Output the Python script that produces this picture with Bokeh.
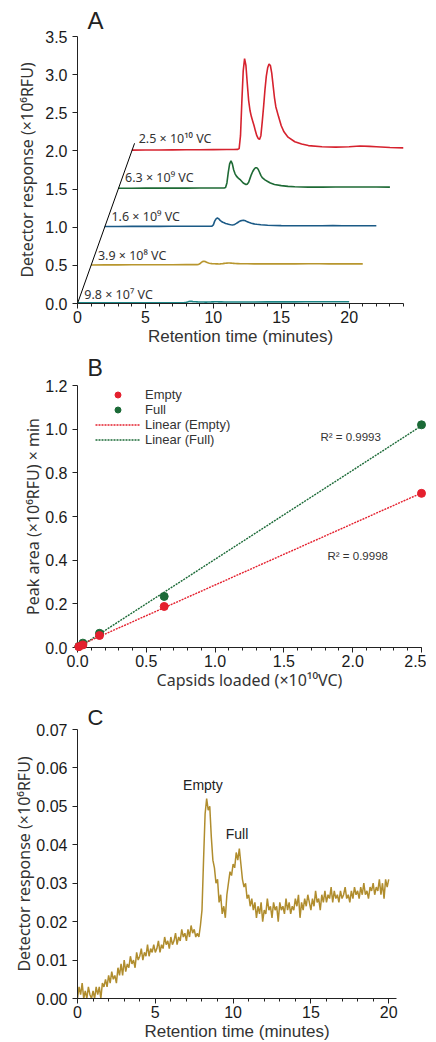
from bokeh.plotting import figure
from bokeh.layouts import column
from bokeh.models import FixedTicker, Label, Legend, LegendItem, PrintfTickFormatter, Range1d, Title
from bokeh.core.properties import value
from bokeh.embed import file_html
from bokeh.resources import INLINE
import numpy as np

FONT = "Liberation Sans"
TFONT = "Noto Sans"

# ---------------- Panel A data ----------------
times_A = [0, 1, 2, 3, 4, 5, 6, 7, 7.5, 7.8,
           7.9, 8.0, 8.1, 8.2, 8.3, 8.4, 8.5, 8.6, 8.7, 8.8,
           8.9, 9.0, 9.1, 9.2, 9.3, 9.4, 9.5, 9.6, 9.7, 9.8,
           9.9, 10.0, 10.1, 10.2, 10.3, 10.4, 10.5, 10.6, 10.8, 11.0,
           11.2, 11.5, 12.0, 12.5, 13, 14, 15, 16, 16.8, 17.5,
           18, 19, 20]
sig_98e7 = [0.008, 0.009, 0.009, 0.010, 0.010, 0.010, 0.010, 0.010, 0.010, 0.010,
            0.011, 0.015, 0.020, 0.026, 0.030, 0.028, 0.025, 0.023, 0.022, 0.021,
            0.020, 0.020, 0.020, 0.019, 0.019, 0.018, 0.018, 0.019, 0.019, 0.020,
            0.021, 0.021, 0.022, 0.022, 0.022, 0.021, 0.021, 0.021, 0.020, 0.020,
            0.020, 0.020, 0.020, 0.020, 0.020, 0.021, 0.021, 0.021, 0.022, 0.022,
            0.022, 0.022, 0.022]
sig_39e8 = [0.005, 0.006, 0.006, 0.007, 0.007, 0.008, 0.008, 0.009, 0.009, 0.010,
            0.012, 0.020, 0.035, 0.050, 0.055, 0.050, 0.040, 0.033, 0.028, 0.025,
            0.023, 0.022, 0.021, 0.020, 0.019, 0.018, 0.019, 0.021, 0.023, 0.026,
            0.028, 0.029, 0.030, 0.030, 0.029, 0.027, 0.026, 0.024, 0.023, 0.022,
            0.021, 0.021, 0.020, 0.020, 0.020, 0.020, 0.020, 0.021, 0.021, 0.020,
            0.020, 0.020, 0.020]
sig_16e9 = [0.010, 0.010, 0.011, 0.011, 0.011, 0.012, 0.012, 0.012, 0.012, 0.012,
            0.014, 0.030, 0.080, 0.110, 0.120, 0.110, 0.090, 0.075, 0.065, 0.058,
            0.050, 0.045, 0.040, 0.035, 0.032, 0.030, 0.032, 0.040, 0.050, 0.062,
            0.074, 0.083, 0.089, 0.090, 0.087, 0.080, 0.072, 0.064, 0.052, 0.044,
            0.038, 0.032, 0.026, 0.023, 0.021, 0.020, 0.020, 0.020, 0.021, 0.020,
            0.020, 0.020, 0.020]
sig_63e9 = [0.010, 0.011, 0.012, 0.012, 0.013, 0.013, 0.014, 0.014, 0.015, 0.015,
            0.020, 0.080, 0.220, 0.330, 0.370, 0.330, 0.250, 0.200, 0.170, 0.150,
            0.135, 0.120, 0.100, 0.080, 0.070, 0.060, 0.065, 0.090, 0.140, 0.190,
            0.230, 0.260, 0.280, 0.280, 0.260, 0.220, 0.180, 0.150, 0.120, 0.100,
            0.080, 0.060, 0.045, 0.035, 0.030, 0.025, 0.025, 0.027, 0.028, 0.028,
            0.027, 0.027, 0.026]
sig_25e10 = [0.010, 0.012, 0.013, 0.014, 0.015, 0.016, 0.017, 0.018, 0.019, 0.020,
             0.030, 0.200, 0.650, 1.050, 1.210, 1.120, 0.880, 0.660, 0.530, 0.450,
             0.390, 0.330, 0.260, 0.200, 0.165, 0.150, 0.200, 0.380, 0.580, 0.800,
             0.980, 1.090, 1.140, 1.120, 1.020, 0.860, 0.700, 0.580, 0.450, 0.330,
             0.250, 0.180, 0.120, 0.090, 0.070, 0.055, 0.050, 0.055, 0.065, 0.060,
             0.055, 0.045, 0.040]
trace_labels_A = ["9.8 × 10⁷ VC", "3.9 × 10⁸ VC", "1.6 × 10⁹ VC", "6.3 × 10⁹ VC", "2.5 × 10¹⁰ VC"]
trace_colors_A = ["#1d8585", "#b8962e", "#1b5a86", "#1e6a35", "#d6222e"]
x_shift_A = [0, 1, 2, 3, 4]
y_shift_A = [0.0, 0.5, 1.0, 1.5, 2.0]
xticks_A = [0, 5, 10, 15, 20]
yticks_A = [0.0, 0.5, 1.0, 1.5, 2.0, 2.5, 3.0, 3.5]

# ---------------- Panel B data ----------------
capsids_loaded = [0.0098, 0.039, 0.16, 0.63, 2.5]
area_empty = [0.004, 0.012, 0.055, 0.188, 0.706]
area_full = [0.005, 0.020, 0.065, 0.234, 1.020]
r2_full = "R² = 0.9993"
r2_empty = "R² = 0.9998"
xticks_B = [0.0, 0.5, 1.0, 1.5, 2.0, 2.5]
yticks_B = [0.0, 0.2, 0.4, 0.6, 0.8, 1.0, 1.2]

# ---------------- Panel C data (sampled every 0.1 min) ----------------
c_signal = [
    0.000, 0.003, 0.001, 0.004, 0.000, 0.002, 0.000, 0.003, 0.001, 0.000,
    0.002, 0.000, 0.003, 0.001, 0.003, 0.000, 0.004, 0.003, 0.005, 0.003,
    0.006, 0.004, 0.007, 0.005, 0.006, 0.004, 0.008, 0.006, 0.009, 0.006,
    0.010, 0.007, 0.009, 0.008, 0.011, 0.009, 0.010, 0.008, 0.012, 0.010,
    0.011, 0.013, 0.010, 0.012, 0.011, 0.014, 0.011, 0.013, 0.012, 0.014,
    0.012, 0.013, 0.015, 0.012, 0.014, 0.013, 0.016, 0.014, 0.015, 0.013,
    0.016, 0.014, 0.015, 0.017, 0.014, 0.016, 0.015, 0.018, 0.016, 0.017,
    0.015, 0.018, 0.016, 0.019, 0.017, 0.018, 0.016, 0.017, 0.016, 0.019,
    0.023, 0.036, 0.048, 0.052, 0.049, 0.050, 0.042, 0.036, 0.034, 0.030,
    0.031, 0.025, 0.027, 0.022, 0.024, 0.021, 0.027, 0.030, 0.033, 0.032,
    0.035, 0.034, 0.038, 0.036, 0.039, 0.035, 0.031, 0.029, 0.030, 0.026,
    0.027, 0.024, 0.026, 0.023, 0.025, 0.021, 0.024, 0.022, 0.025, 0.020,
    0.023, 0.022, 0.026, 0.023, 0.024, 0.021, 0.025, 0.023, 0.024, 0.020,
    0.025, 0.023, 0.024, 0.022, 0.026, 0.023, 0.025, 0.022, 0.024, 0.023,
    0.026, 0.024, 0.027, 0.021, 0.025, 0.023, 0.026, 0.024, 0.027, 0.025,
    0.023, 0.026, 0.024, 0.028, 0.025, 0.026, 0.023, 0.027, 0.025, 0.028,
    0.025, 0.027, 0.026, 0.029, 0.025, 0.028, 0.026, 0.027, 0.025, 0.028,
    0.026, 0.027, 0.029, 0.026, 0.027, 0.025, 0.028, 0.026, 0.029, 0.027,
    0.028, 0.026, 0.029, 0.027, 0.030, 0.027, 0.028, 0.026, 0.029, 0.028,
    0.030, 0.027, 0.029, 0.028, 0.031, 0.027, 0.030, 0.026, 0.031, 0.029,
    0.031]
c_sample_interval = 0.1
times_C = [round(i * c_sample_interval, 1) for i in range(len(c_signal))]
xticks_C = [0, 5, 10, 15, 20]
yticks_C = [0.00, 0.01, 0.02, 0.03, 0.04, 0.05, 0.06, 0.07]


def make_fig(xr, yr, fw, fh, top, bottom, letter, letter_size, letter_standoff):
    p = figure(frame_width=fw, frame_height=fh, x_range=xr, y_range=yr,
               output_backend="svg", toolbar_location=None,
               min_border_left=77, min_border_right=5,
               min_border_top=top, min_border_bottom=bottom,
               title=Title(text=letter, align="left", offset=10, standoff=letter_standoff,
                           text_font=FONT, text_font_size=letter_size, text_font_style="normal",
                           text_color="#222222"))
    p.xgrid.visible = False
    p.ygrid.visible = False
    p.outline_line_color = None
    for ax in (p.xaxis[0], p.yaxis[0]):
        ax.axis_line_color = "#222222"
        ax.axis_line_width = 1
        ax.major_tick_line_color = "#222222"
        ax.minor_tick_line_color = "#222222"
        ax.major_tick_out = 5
        ax.major_tick_in = 0
        ax.minor_tick_out = 3
        ax.minor_tick_in = 0
        ax.major_label_text_font = FONT
        ax.major_label_text_font_size = "16px"
        ax.major_label_text_color = "#1a1a1a"
        ax.axis_label_text_font = TFONT
        ax.axis_label_text_font_style = "normal"
        ax.axis_label_text_font_size = "16px"
        ax.axis_label_text_color = "#333333"
    p.yaxis[0].minor_tick_line_color = None
    p.xaxis[0].major_label_standoff = 2
    return p


def below_title(p, text, offset, standoff):
    p.add_layout(Title(text=text, align="center", offset=offset, standoff=standoff,
                       text_font=FONT, text_font_size="17px", text_font_style="normal",
                       text_color="#333333"), "below")


# ---------------- Panel A ----------------
pA = make_fig(Range1d(0, 24), Range1d(0, 3.5), 326, 267, 36, 44, "A", "24px", 6)
pA.xaxis[0].ticker = FixedTicker(ticks=xticks_A, minor_ticks=list(range(0, 25)))
pA.yaxis[0].ticker = FixedTicker(ticks=yticks_A)
pA.xaxis[0].formatter = PrintfTickFormatter(format="%d")
pA.yaxis[0].formatter = PrintfTickFormatter(format="%.1f")
pA.yaxis[0].axis_label = "Detector response (×10⁶RFU)"
pA.yaxis[0].axis_label_standoff = 4

signals_A = [sig_98e7, sig_39e8, sig_16e9, sig_63e9, sig_25e10]
for k, sig in enumerate(signals_A):
    xs = [t + x_shift_A[k] for t in times_A]
    ys = [v + y_shift_A[k] for v in sig]
    pA.line(xs, ys, line_color=trace_colors_A[k], line_width=1.6)
pA.line([0, x_shift_A[-1] * 1.05], [0, y_shift_A[-1] * 1.05], line_color="black", line_width=1)
pA.text(x=[s + 0.5 for s in x_shift_A], y=[s + 0.12 + 0.1 * s / 5 for s in y_shift_A],
        text=trace_labels_A, text_font=value(TFONT), text_font_size="12.5px",
        text_baseline="middle", text_align="left", text_color="#333333")
below_title(pA, "Retention time (minutes)", -13, -1)

# ---------------- Panel B ----------------
pB = make_fig(Range1d(0, 2.5), Range1d(0, 1.2), 344, 262, 38, 46, "B", "23px", 10)
pB.xaxis[0].ticker = FixedTicker(ticks=xticks_B, minor_ticks=[i / 10 for i in range(0, 26)])
pB.yaxis[0].ticker = FixedTicker(ticks=yticks_B)
pB.xaxis[0].formatter = PrintfTickFormatter(format="%.1f")
pB.yaxis[0].formatter = PrintfTickFormatter(format="%.1f")
pB.yaxis[0].axis_label = "Peak area (×10⁶RFU) × min"
pB.yaxis[0].axis_label_standoff = -2
pB.xaxis[0].axis_label = "Capsids loaded (×10¹⁰VC)"
pB.xaxis[0].axis_label_standoff = -1

x_fit = [0.0, xticks_B[-1]]
fe = np.polyfit(capsids_loaded, area_empty, 1)
ff = np.polyfit(capsids_loaded, area_full, 1)
red_c, green_c = "#e4202e", "#1b6a37"
lf = pB.line(x_fit, [ff[0] * x + ff[1] for x in x_fit], line_color=green_c, line_width=1.4, line_dash="2 1")
le = pB.line(x_fit, [fe[0] * x + fe[1] for x in x_fit], line_color=red_c, line_width=1.4, line_dash="2 1")
sf = pB.scatter(capsids_loaded, area_full, size=8, fill_color=green_c, line_color=green_c, level="overlay")
se = pB.scatter(capsids_loaded, area_empty, size=8, fill_color=red_c, line_color=red_c, level="overlay")
leg = Legend(items=[LegendItem(label="Empty", renderers=[se]),
                    LegendItem(label="Full", renderers=[sf]),
                    LegendItem(label="Linear (Empty)", renderers=[le]),
                    LegendItem(label="Linear (Full)", renderers=[lf])],
             location=(18, 262 - 62), padding=0, margin=0, spacing=0,
             glyph_width=45, glyph_height=15, label_height=15, label_standoff=5,
             label_text_font=FONT, label_text_font_size="13px", label_text_color="#333333",
             border_line_alpha=0, background_fill_alpha=0)
pB.add_layout(leg)
pB.add_layout(Label(x=1.766, y=0.966, text=r2_full, text_font=FONT, text_font_size="11.5px",
                    text_color="#333333", text_baseline="middle"))
pB.add_layout(Label(x=1.817, y=0.42, text=r2_empty, text_font=FONT, text_font_size="11.5px",
                    text_color="#333333", text_baseline="middle"))

# ---------------- Panel C ----------------
pC = make_fig(Range1d(0, 20.5), Range1d(0, 0.07), 319, 269, 36, 44, "C", "22px", 0)
pC.xaxis[0].ticker = FixedTicker(ticks=xticks_C, minor_ticks=list(range(0, 21)))
pC.yaxis[0].ticker = FixedTicker(ticks=yticks_C)
pC.xaxis[0].formatter = PrintfTickFormatter(format="%d")
pC.yaxis[0].formatter = PrintfTickFormatter(format="%.2f")
pC.yaxis[0].axis_label = "Detector response (×10⁶RFU)"
pC.yaxis[0].axis_label_standoff = -2
pC.line(times_C, c_signal, line_color="#b08d2e", line_width=1.5)
pC.add_layout(Label(x=8.06, y=0.0556, text="Empty", text_font=FONT, text_font_size="14px",
                    text_color="#222222", text_align="center", text_baseline="middle"))
pC.add_layout(Label(x=10.25, y=0.0429, text="Full", text_font=FONT, text_font_size="14px",
                    text_color="#222222", text_align="center", text_baseline="middle"))
below_title(pC, "Retention time (minutes)", -13, -1)

layout = column(pA, pB, pC, spacing=0)
open("out.html", "w").write(file_html(layout, INLINE))
